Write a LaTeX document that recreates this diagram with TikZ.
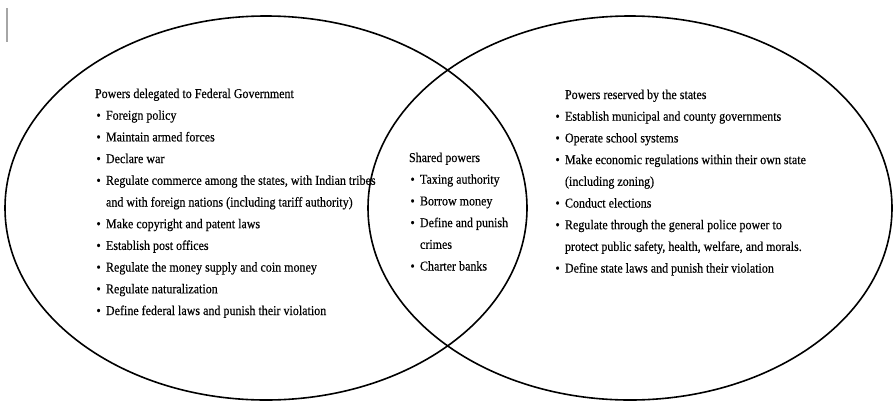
\documentclass[tikz,border=0pt]{standalone}
\usepackage{fontspec}
\setmainfont{Liberation Serif}[FakeStretch=0.89,FakeBold=0.35]
\begin{document}
\begin{tikzpicture}[x=1pt,y=-1pt,
  setline/.style={draw=black,line width=1.6pt},
  txt/.style={anchor=base west,inner sep=0pt,outer sep=0pt,
    font=\fontsize{13.5}{16}\selectfont},
  bul/.style={txt,execute at begin node={\llap{\makebox[9.5pt][l]{\textbullet}}}},
]
\useasboundingbox (0,0) rectangle (894,400);

% stray caret mark at the top left
\draw[gray!70,line width=1.2pt] (7,8) -- (7,42);

% the two overlapping sets
\draw[setline] (266,208) ellipse [x radius=261,y radius=192];
\draw[setline] (630,208) ellipse [x radius=262,y radius=192];

% federal powers
\node[txt] (fedh) at (95,98) {Powers delegated to Federal Government};
\node[bul] (fed1) at (106,119.7) {Foreign policy};
\node[bul] (fed2) at (106,141.4) {Maintain armed forces};
\node[bul] (fed3) at (106,163.1) {Declare war};
\node[bul] (fed4) at (106,184.8) {Regulate commerce among the states, with Indian tribes};
\node[txt] (fed4b) at (106,206.5) {and with foreign nations (including tariff authority)};
\node[bul] (fed5) at (106,228.2) {Make copyright and patent laws};
\node[bul] (fed6) at (106,249.9) {Establish post offices};
\node[bul] (fed7) at (106,271.6) {Regulate the money supply and coin money};
\node[bul] (fed8) at (106,293.3) {Regulate naturalization};
\node[bul] (fed9) at (106,315.0) {Define federal laws and punish their violation};

% shared powers
\node[txt] (shh) at (409,162) {Shared powers};
\node[bul] (sh1) at (420,183.7) {Taxing authority};
\node[bul] (sh2) at (420,205.4) {Borrow money};
\node[bul] (sh3) at (420,227.1) {Define and punish};
\node[txt] (sh3b) at (420,248.8) {crimes};
\node[bul] (sh4) at (420,270.5) {Charter banks};

% state powers
\node[txt] (sth) at (565,99) {Powers reserved by the states};
\node[bul] (st1) at (565,120.7) {Establish municipal and county governments};
\node[bul] (st2) at (565,142.4) {Operate school systems};
\node[bul] (st3) at (565,164.1) {Make economic regulations within their own state};
\node[txt] (st3b) at (565,185.8) {(including zoning)};
\node[bul] (st4) at (565,207.5) {Conduct elections};
\node[bul] (st5) at (565,229.2) {Regulate through the general police power to};
\node[txt] (st5b) at (565,250.9) {protect public safety, health, welfare, and morals.};
\node[bul] (st6) at (565,272.6) {Define state laws and punish their violation};
\end{tikzpicture}
\end{document}
